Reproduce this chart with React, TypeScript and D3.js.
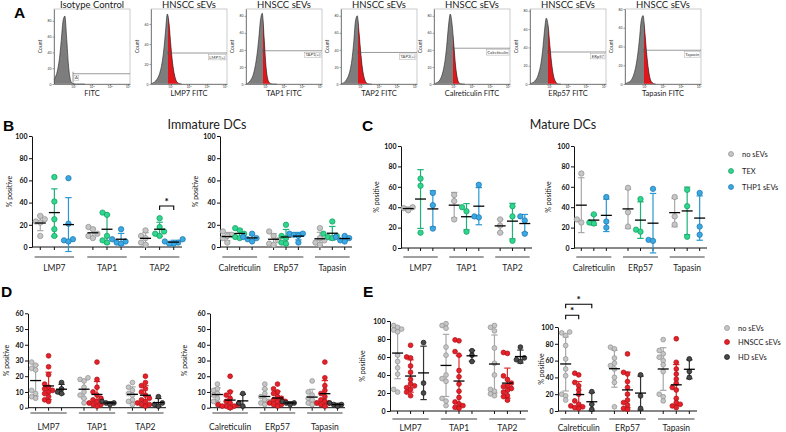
import { useEffect, useRef } from 'react';
import * as d3 from 'd3';

const FONT = "Lato, 'Open Sans', sans-serif";

// ---------- flow histograms ----------
const histTitles = ['Isotype Control', 'HNSCC sEVs', 'HNSCC sEVs', 'HNSCC sEVs', 'HNSCC sEVs', 'HNSCC sEVs', 'HNSCC sEVs'];
const histXLabels = ['FITC', 'LMP7 FITC', 'TAP1 FITC', 'TAP2 FITC', 'Calreticulin FITC', 'ERp57 FITC', 'Tapasin FITC'];
const histGateLabels = ['A', 'LMP7(+)', 'TAP1(+)', 'TAP2(+)', 'Calreticulin', 'ERp57', 'Tapasin'];
// log10 of FITC intensity at each bin
const histBins = [-0.1, 0, 0.1, 0.2, 0.3, 0.4, 0.5, 0.6, 0.7, 0.8, 0.9, 1.0, 1.1, 1.2, 1.3, 1.4, 1.5, 1.6];
const isotypeCounts = [6, 10, 18, 32, 55, 80, 86, 58, 24, 6, 1, 0.3, 0, 0, 0, 0, 0, 0];
const lmp7Counts = [0, 1, 2, 4, 7, 12, 20, 33, 52, 70, 60, 38, 20, 9, 3, 1, 0.3, 0];
const tap1Counts = [0, 1, 3, 6, 11, 20, 33, 52, 75, 83, 55, 22, 6, 1.5, 0.3, 0, 0, 0];
const tap2Counts = [0, 1, 2, 5, 9, 16, 28, 48, 74, 80, 60, 35, 16, 6, 1.5, 0.3, 0, 0];
const calreticulinCounts = [0, 1, 2, 4, 8, 15, 26, 44, 68, 82, 70, 45, 20, 6, 1, 0.2, 0, 0];
const erp57Counts = [0, 1, 2, 4, 7, 13, 22, 37, 58, 72, 64, 42, 22, 9, 3, 0.6, 0, 0];
const tapasinCounts = [0, 1, 2, 3, 6, 11, 19, 31, 48, 68, 73, 55, 32, 15, 5, 1.5, 0.3, 0];
const histCounts = [isotypeCounts, lmp7Counts, tap1Counts, tap2Counts, calreticulinCounts, erp57Counts, tapasinCounts];
const histYMax = [95, 75, 88, 88, 88, 82, 80];
const histYTicks = [[0, 20, 40, 60, 80], [0, 20, 40, 60], [0, 20, 40, 60, 80], [0, 20, 40, 60, 80], [0, 20, 40, 60, 80], [0, 20, 40, 60, 80], [0, 20, 40, 60, 80]];
const histGateStart = [0.95, 0.84, 0.84, 0.84, 0.95, 0.89, 0.95];
const histGateLevel = [13, 31, 39, 37, 42, 35, 36];

// ---------- % positive scatter data ----------
const apmGroups = ['LMP7', 'TAP1', 'TAP2'];
const chaperoneGroups = ['Calreticulin', 'ERp57', 'Tapasin'];
const thp1Series = ['no sEVs', 'TEX', 'THP1 sEVs'];
const hnsccSeries = ['no sEVs', 'HNSCC sEVs', 'HD sEVs'];

// columns run group by group: no sEVs, TEX / HNSCC sEVs, THP1 sEVs / HD sEVs
const immatureApm = [
  [28, 25, 23, 22, 10], [63, 41, 25, 16, 10], [62, 21, 7, 6, 5],
  [18, 16, 12, 10, 8], [31, 29, 10, 6, 4], [16, 7, 5, 4, 3],
  [15, 10, 8, 4, 2], [26, 18, 14, 12, 10], [7, 5, 4, 3, 3],
];
const immatureChaperones = [
  [14, 11, 10, 8, 4], [17, 15, 12, 9, 8], [12, 9, 8, 7, 5],
  [14, 10, 6, 3, 2], [20, 10, 8, 4, 3], [12, 12, 11, 10, 4],
  [17, 8, 6, 4, 2], [23, 12, 10, 9, 8], [10, 9, 8, 6, 5],
];
const matureApm = [
  [37, 39, 40], [68, 61, 15], [54, 42, 19],
  [52, 46, 28], [40, 36, 16], [62, 31, 30],
  [28, 22, 15], [41, 31, 7], [31, 27, 14],
];
const matureChaperones = [
  [73, 28, 25], [33, 25, 24], [50, 26, 20],
  [59, 35, 21], [48, 18, 16], [58, 8, 7],
  [50, 31, 23], [57, 41, 11], [54, 21, 13],
];
const donorApmD = [
  [29, 27, 25, 24, 11, 9, 7, 6], [33, 26, 21, 15, 13, 12, 11, 10, 9, 7, 5, 4], [16, 12, 10, 9],
  [19, 18, 17, 13, 10, 8, 6, 3], [29, 18, 13, 10, 8, 6, 5, 4, 3, 2, 2, 1], [4, 3, 3, 2],
  [16, 13, 11, 9, 8, 5, 4, 2], [20, 16, 14, 12, 10, 8, 6, 5, 4, 3, 2, 2, 1], [7, 3, 2, 1],
];
const donorChaperonesD = [
  [15, 12, 11, 9, 8, 6, 4, 2], [20, 10, 8, 6, 4, 3, 2, 2, 1, 1, 1, 0], [9, 3, 1],
  [15, 12, 9, 7, 5, 4, 3, 2], [15, 12, 10, 9, 7, 6, 5, 4, 4, 3, 2, 2, 1], [4, 3, 3, 2],
  [17, 10, 8, 6, 5, 3, 3, 2], [29, 19, 14, 11, 9, 7, 5, 4, 3, 3, 2, 1], [3, 2, 2, 1],
];
const donorApmE = [
  [95, 93, 91, 90, 88, 62, 55, 48, 41, 24, 21], [73, 60, 59, 50, 43, 35, 30, 28, 26, 24, 21, 17], [76, 31, 20],
  [97, 95, 92, 71, 62, 40, 36, 33, 14, 11, 6], [79, 78, 66, 62, 45, 38, 30, 22, 15, 10, 8, 6, 4, 3], [67, 62, 55],
  [95, 93, 89, 70, 53, 40, 24, 22, 19, 17], [65, 64, 39, 35, 31, 28, 27, 25, 23, 21, 17, 16, 12], [71, 59, 57, 55],
];
const donorChaperonesE = [
  [94, 93, 90, 78, 62, 50, 42, 20, 18, 13], [45, 43, 34, 30, 25, 20, 12, 8, 6, 5, 4, 3], [23, 8, 2],
  [76, 74, 63, 57, 54, 50, 40, 34, 5], [68, 46, 44, 35, 28, 20, 13, 10, 7, 3, 2], [43, 18, 3],
  [85, 72, 68, 64, 60, 55, 47, 20, 17, 12], [86, 58, 50, 44, 38, 33, 28, 25, 15, 10, 8, 6, 4], [62, 47, 40],
];

interface Swatch { fill: string; stroke: string; bar: string }
const GRAY: Swatch = { fill: '#c6c6c6', stroke: '#8e8e8e', bar: '#a8a8a8' };
const GREEN: Swatch = { fill: '#2fd68e', stroke: '#119a5e', bar: '#1db37a' };
const BLUE: Swatch = { fill: '#3aa9e2', stroke: '#1d72ad', bar: '#2a98d2' };
const RED: Swatch = { fill: '#e8202a', stroke: '#a80f14', bar: '#e32b2b' };
const DARK: Swatch = { fill: '#4a4a4a', stroke: '#111111', bar: '#333333' };
const thp1Palette = [GRAY, GREEN, BLUE];
const hnsccPalette = [GRAY, RED, DARK];

interface Bracket { group: number; from: number; to: number; level: number }
interface ScatterCfg {
  groups: string[]; data: number[][]; palette: Swatch[]; radius: number;
  left: number; right: number; top: number; bottom: number; yMax: number; tickStep: number;
  ylabelX: number; underlineY: number; labelY: number; brackets?: Bracket[];
}

const charts: ScatterCfg[] = [
  { groups: apmGroups, data: immatureApm, palette: thp1Palette, radius: 2.7, left: 32, right: 182, top: 136, bottom: 247, yMax: 100, tickStep: 20, ylabelX: 10, underlineY: 257, labelY: 271,
    brackets: [{ group: 2, from: 1, to: 2, level: 37 }] },
  { groups: chaperoneGroups, data: immatureChaperones, palette: thp1Palette, radius: 2.7, left: 220, right: 352, top: 136, bottom: 247, yMax: 100, tickStep: 20, ylabelX: 196, underlineY: 257, labelY: 271 },
  { groups: apmGroups, data: matureApm, palette: thp1Palette, radius: 2.7, left: 401, right: 532, top: 146, bottom: 248, yMax: 100, tickStep: 20, ylabelX: 377, underlineY: 257, labelY: 271 },
  { groups: chaperoneGroups, data: matureChaperones, palette: thp1Palette, radius: 2.7, left: 574, right: 707, top: 146, bottom: 248, yMax: 100, tickStep: 20, ylabelX: 549, underlineY: 257, labelY: 271 },
  { groups: apmGroups, data: donorApmD, palette: hnsccPalette, radius: 2.4, left: 28, right: 166, top: 313.3, bottom: 407.7, yMax: 60, tickStep: 10, ylabelX: 7, underlineY: 413, labelY: 430 },
  { groups: chaperoneGroups, data: donorChaperonesD, palette: hnsccPalette, radius: 2.4, left: 210, right: 345, top: 313.3, bottom: 407.7, yMax: 60, tickStep: 10, ylabelX: 185, underlineY: 413, labelY: 430 },
  { groups: apmGroups, data: donorApmE, palette: hnsccPalette, radius: 2.4, left: 390, right: 528, top: 321, bottom: 411, yMax: 100, tickStep: 20, ylabelX: 363, underlineY: 419, labelY: 431 },
  { groups: chaperoneGroups, data: donorChaperonesE, palette: hnsccPalette, radius: 2.4, left: 558, right: 697, top: 327, bottom: 411, yMax: 100, tickStep: 20, ylabelX: 542, underlineY: 419, labelY: 431,
    brackets: [{ group: 0, from: 0, to: 2, level: 127 }, { group: 0, from: 0, to: 1, level: 114 }] },
];

type Sel = d3.Selection<SVGGElement, unknown, null, undefined>;

// horizontal offsets so that points with similar values sit side by side
function spread(ys: number[], r: number): number[] {
  const gap = r * 1.65;
  const placed: { x: number; y: number }[] = [];
  const dx = ys.map(() => 0);
  const order = ys.map((_, i) => i).sort((a, b) => ys[b] - ys[a]);
  for (const i of order) {
    for (let k = 0; k < 24; k++) {
      const off = k === 0 ? 0 : (k % 2 ? -1 : 1) * Math.ceil(k / 2) * gap;
      if (placed.every(p => Math.hypot(p.x - off, p.y - ys[i]) >= gap)) {
        dx[i] = off;
        placed.push({ x: off, y: ys[i] });
        break;
      }
    }
  }
  return dx;
}

function drawHistograms(root: Sel) {
  const lefts = [54, 151, 246, 341, 434, 530, 625];
  const w = 76, top = 9, bottom = 84;
  lefts.forEach((left, i) => {
    const g = root.append('g');
    const x = d3.scaleLinear().domain([-0.1, 4.1]).range([left, left + w]);
    const y = d3.scaleLinear().domain([0, histYMax[i]]).range([bottom, top]);
    const pts = histBins.map((b, j) => [b, histCounts[i][j]] as [number, number]);
    const area = d3.area<[number, number]>().x(d => x(d[0])).y0(y(0)).y1(d => y(d[1])).curve(d3.curveMonotoneX);
    const line = d3.line<[number, number]>().x(d => x(d[0])).y(d => y(d[1])).curve(d3.curveMonotoneX);
    const clipId = `gate-${i}`;
    g.append('clipPath').attr('id', clipId).append('rect')
      .attr('x', x(histGateStart[i])).attr('y', top).attr('width', left + w - x(histGateStart[i])).attr('height', bottom - top);
    g.append('path').datum(pts).attr('d', area).attr('fill', '#7d7d7d');
    if (i > 0) g.append('path').datum(pts).attr('d', area).attr('fill', '#e0161c').attr('clip-path', `url(#${clipId})`);
    g.append('path').datum(pts).attr('d', line).attr('fill', 'none').attr('stroke', '#222').attr('stroke-width', 0.6);
    // frame
    g.append('rect').attr('x', left).attr('y', top).attr('width', w).attr('height', bottom - top)
      .attr('fill', 'none').attr('stroke', '#a8a8a8').attr('stroke-width', 0.6);
    const ya = g.append('g').attr('transform', `translate(${left},0)`)
      .call(d3.axisLeft(y).tickValues(histYTicks[i]).tickSize(1.5).tickSizeOuter(0).tickPadding(1));
    ya.select('.domain').attr('stroke', '#444').attr('stroke-width', 0.6);
    ya.selectAll('line').attr('stroke', '#444').attr('stroke-width', 0.5);
    ya.selectAll('text').attr('font-size', 3.4).attr('font-family', FONT).attr('fill', '#333');
    const xa = g.append('g').attr('transform', `translate(0,${bottom})`)
      .call(d3.axisBottom(x).tickValues([1, 2, 3, 4]).tickSize(1.5).tickSizeOuter(0).tickFormat(() => ''));
    xa.select('.domain').attr('stroke', '#444').attr('stroke-width', 0.6);
    xa.selectAll('line').attr('stroke', '#444').attr('stroke-width', 0.5);
    [1, 2, 3, 4].forEach(e => {
      const t = g.append('text').attr('x', x(e)).attr('y', bottom + 4.4).attr('text-anchor', 'middle')
        .attr('font-size', 3.2).attr('font-family', FONT).attr('fill', '#333');
      t.append('tspan').text('10');
      t.append('tspan').attr('dy', -1.2).attr('font-size', 2.4).text(String(e));
    });
    g.append('text').attr('transform', `translate(${left - 12},${(top + bottom) / 2}) rotate(-90)`)
      .attr('text-anchor', 'middle').attr('font-size', 5).attr('font-family', FONT).attr('fill', '#333').text('Count');
    g.append('text').attr('x', left + w / 2).attr('y', 7.5).attr('text-anchor', 'middle')
      .attr('font-size', 9.5).attr('font-family', FONT).attr('fill', '#1a1a1a').text(histTitles[i]);
    g.append('text').attr('x', left + w / 2).attr('y', 96).attr('text-anchor', 'middle')
      .attr('font-size', 7.5).attr('font-family', FONT).attr('fill', '#1a1a1a').text(histXLabels[i]);
    // positive gate
    const gx = x(histGateStart[i]);
    const gy = y(histGateLevel[i]);
    g.append('line').attr('x1', gx).attr('x2', left + w).attr('y1', gy).attr('y2', gy).attr('stroke', '#555').attr('stroke-width', 0.6);
    g.append('line').attr('x1', gx).attr('x2', gx).attr('y1', gy - 2).attr('y2', i === 0 ? bottom : gy + 2).attr('stroke', '#555').attr('stroke-width', 0.6);
    const label = g.append('text').attr('font-size', 4.2).attr('font-family', FONT).attr('fill', '#333').text(histGateLabels[i]);
    const tw = (label.node() as SVGTextElement).getComputedTextLength();
    const lx = i === 0 ? gx + 2 : left + w - tw - 2;
    const ly = gy + 5.6;
    label.attr('x', lx).attr('y', ly);
    g.insert('rect', () => label.node() as SVGTextElement).attr('x', lx - 1).attr('y', ly - 4.1).attr('width', tw + 2).attr('height', 5.4)
      .attr('fill', '#fff').attr('stroke', '#999').attr('stroke-width', 0.4);
  });
}

function drawScatter(root: Sel, cfg: ScatterCfg) {
  const g = root.append('g');
  const r = cfg.radius;
  const y = d3.scaleLinear().domain([0, cfg.yMax]).range([cfg.bottom, cfg.top]);
  const xGroup = d3.scaleBand<string>().domain(cfg.groups).range([cfg.left, cfg.right]).paddingInner(0.25).paddingOuter(0.05);
  const xCol = d3.scalePoint<number>().domain([0, 1, 2]).range([0, xGroup.bandwidth()]).padding(0.4);
  const colX = (i: number) => (xGroup(cfg.groups[Math.floor(i / 3)]) ?? 0) + (xCol(i % 3) ?? 0);

  // y axis
  const ya = g.append('g').attr('transform', `translate(${cfg.left},0)`)
    .call(d3.axisLeft(y).tickValues(d3.range(0, cfg.yMax + 1, cfg.tickStep)).tickSize(3).tickSizeOuter(0).tickPadding(1.5));
  ya.select('.domain').attr('stroke', '#111').attr('stroke-width', 1);
  ya.selectAll('line').attr('stroke', '#111').attr('stroke-width', 1);
  ya.selectAll('text').attr('font-size', 7).attr('font-weight', 700).attr('font-family', FONT).attr('fill', '#111');
  g.append('text').attr('transform', `translate(${cfg.ylabelX},${(cfg.top + cfg.bottom) / 2}) rotate(-90)`)
    .attr('text-anchor', 'middle').attr('dy', '0.35em').attr('font-size', 7).attr('font-family', FONT).attr('fill', '#111').text('% positive');

  // x axis with a tick under every column
  g.append('line').attr('x1', cfg.left).attr('x2', cfg.right).attr('y1', cfg.bottom).attr('y2', cfg.bottom).attr('stroke', '#111').attr('stroke-width', 1);
  g.selectAll('line.coltick').data(cfg.data).enter().append('line').attr('class', 'coltick')
    .attr('x1', (_, i) => colX(i)).attr('x2', (_, i) => colX(i)).attr('y1', cfg.bottom).attr('y2', cfg.bottom + 3)
    .attr('stroke', '#111').attr('stroke-width', 1);

  // group underlines and names
  cfg.groups.forEach(name => {
    const x0 = xGroup(name) ?? 0;
    g.append('line').attr('x1', x0).attr('x2', x0 + xGroup.bandwidth()).attr('y1', cfg.underlineY).attr('y2', cfg.underlineY)
      .attr('stroke', '#808080').attr('stroke-width', 1.4);
    g.append('text').attr('x', x0 + xGroup.bandwidth() / 2).attr('y', cfg.labelY).attr('text-anchor', 'middle')
      .attr('font-size', 8.5).attr('font-family', FONT).attr('fill', '#222').text(name);
  });

  // SD bars, points, means
  cfg.data.forEach((vals, i) => {
    const sw = cfg.palette[i % 3];
    const cx = colX(i);
    const m = d3.mean(vals) ?? 0;
    const sd = d3.deviation(vals) ?? 0;
    const yHi = y(m + sd), yLo = y(m - sd);
    g.append('line').attr('x1', cx).attr('x2', cx).attr('y1', yHi).attr('y2', yLo).attr('stroke', sw.bar).attr('stroke-width', 1.2);
    [yHi, yLo].forEach(yy => g.append('line').attr('x1', cx - 3.2).attr('x2', cx + 3.2).attr('y1', yy).attr('y2', yy)
      .attr('stroke', sw.bar).attr('stroke-width', 1.2));
    const ys = vals.map(v => y(v));
    const dx = spread(ys, r);
    g.selectAll(null).data(vals).enter().append('circle')
      .attr('cx', (_, j) => cx + dx[j]).attr('cy', d => y(d)).attr('r', r)
      .attr('fill', sw.fill).attr('stroke', sw.stroke).attr('stroke-width', 0.7);
    g.append('line').attr('x1', cx - 5.5).attr('x2', cx + 5.5).attr('y1', y(m)).attr('y2', y(m)).attr('stroke', '#000').attr('stroke-width', 1.3);
  });

  (cfg.brackets ?? []).forEach(b => {
    const xa = colX(b.group * 3 + b.from), xb = colX(b.group * 3 + b.to), yy = y(b.level);
    g.append('path').attr('d', `M${xa},${yy + 4}V${yy}H${xb}V${yy + 4}`).attr('fill', 'none').attr('stroke', '#000').attr('stroke-width', 1.1);
    g.append('text').attr('x', (xa + xb) / 2).attr('y', yy - 1).attr('text-anchor', 'middle')
      .attr('font-size', 10).attr('font-weight', 700).attr('font-family', FONT).text('*');
  });
}

function drawLegend(root: Sel, names: string[], palette: Swatch[], x: number, ys: number[]) {
  const g = root.append('g');
  names.forEach((name, i) => {
    g.append('circle').attr('cx', x).attr('cy', ys[i]).attr('r', 2.5)
      .attr('fill', palette[i].fill).attr('stroke', palette[i].stroke).attr('stroke-width', 0.7);
    g.append('text').attr('x', x + 11).attr('y', ys[i]).attr('dy', '0.35em')
      .attr('font-size', 7.5).attr('font-family', FONT).attr('fill', '#222').text(name);
  });
}

export default function App() {
  const ref = useRef<SVGSVGElement>(null);
  useEffect(() => {
    if (!ref.current) return;
    const svg = d3.select(ref.current);
    svg.selectAll('*').remove();
    const root = svg.append('g') as unknown as Sel;
    root.append('rect').attr('width', 786).attr('height', 432).attr('fill', '#fff');
    drawHistograms(root);
    charts.forEach(c => drawScatter(root, c));
    drawLegend(root, thp1Series, thp1Palette, 731, [154, 171, 187]);
    drawLegend(root, hnsccSeries, hnsccPalette, 727, [328, 342, 357]);
    // panel letters and titles
    const letters: [string, number, number][] = [['A', 14, 18], ['B', 3, 131], ['C', 362, 131], ['D', 1, 297], ['E', 363, 297]];
    letters.forEach(([t, x, y]) => root.append('text').attr('x', x).attr('y', y).attr('font-size', 15.5).attr('font-weight', 700)
      .attr('font-family', "'Liberation Sans', Arial, sans-serif").attr('fill', '#000').text(t));
    root.append('text').attr('x', 207).attr('y', 129).attr('text-anchor', 'middle').attr('font-size', 12.5)
      .attr('font-family', FONT).attr('fill', '#1a1a1a').text('Immature DCs');
    root.append('text').attr('x', 563).attr('y', 129).attr('text-anchor', 'middle').attr('font-size', 12.5)
      .attr('font-family', FONT).attr('fill', '#1a1a1a').text('Mature DCs');
  }, []);
  return <svg ref={ref} width={786} height={432} style={{ position: 'absolute', left: 0, top: 0, display: 'block' }} />;
}
